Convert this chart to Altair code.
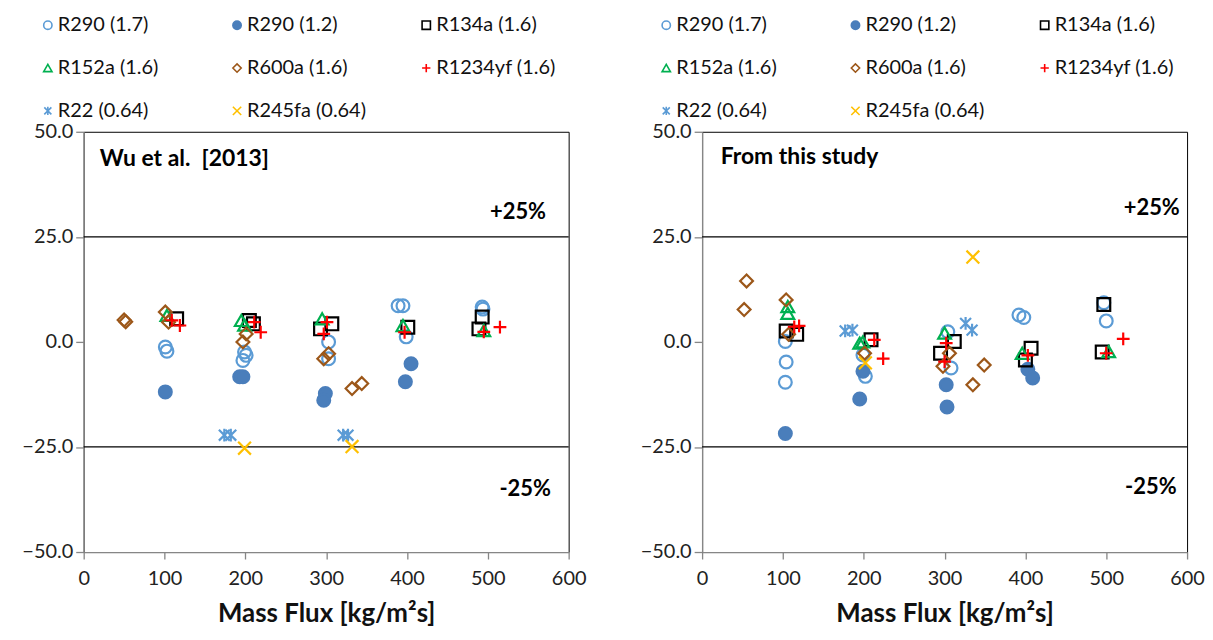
import altair as alt
import pandas as pd

# ---------------- data ----------------
SERIES = ["R290 (1.7)", "R290 (1.2)", "R134a (1.6)", "R152a (1.6)",
          "R600a (1.6)", "R1234yf (1.6)", "R22 (0.64)", "R245fa (0.64)"]
STROKES = ["#5B9BD5", "#4A7EBB", "#000000", "#00B050",
           "#9C5719", "#FF0000", "#5B9BD5", "#FFC000"]
FILLS = ["transparent", "#4A7EBB", "transparent", "transparent",
         "transparent", "transparent", "transparent", "transparent"]
PLUS = "M-1,0L1,0M0,-1L0,1"
ASTER = "M0,-1L0,1M-0.85,-0.85L0.85,0.85M-0.85,0.85L0.85,-0.85"
XMARK = "M-1,-1L1,1M-1,1L1,-1"
SHAPES = ["circle", "circle", "square", "triangle-up", "diamond", PLUS, ASTER, XMARK]

X_TICKS = [0, 100, 200, 300, 400, 500, 600]
Y_TICKS = [-50, -25, 0, 25, 50]
LIMITS = [25, -25]

# Wu et al. [2013] panel
wu_r290_17 = [(101, -1.2), (103, -2.2), (197, -4.4), (199, -2.4), (201, -3.2), (303, 0.0),
              (303, -4.0), (389, 8.6), (395, 8.6), (399, 1.2), (493, 8.3), (494, 7.8)]
wu_r290_12 = [(101, -11.9), (193, -8.3), (197, -8.3), (299, -12.3), (297, -13.9), (405, -5.2), (398, -9.5)]
wu_r134a = [(115, 5.5), (205, 5.1), (210, 4.3), (293, 3.1), (307, 4.3), (401, 3.5), (493, 5.9), (489, 3.1)]
wu_r152a = [(103, 6.3), (195, 5.1), (199, 4.0), (295, 5.5), (395, 3.9), (495, 2.7)]
wu_r600a = [(50, 5.2), (52, 4.8), (101, 7.1), (105, 4.7), (197, 0.0), (201, 1.9),
            (297, -4.0), (303, -2.8), (332, -11.1), (344, -9.9)]
wu_r1234yf = [(109, 5.1), (119, 3.9), (211, 4.7), (219, 2.3), (301, 4.7), (297, 1.9),
              (397, 2.3), (495, 2.4), (515, 3.5)]
wu_r22 = [(174, -22.2), (182, -22.2), (321, -22.2), (327, -22.2)]
wu_r245fa = [(199, -25.3), (332, -24.9)]

# From this study panel
st_r290_17 = [(103, 0.1), (104, -4.8), (103, -9.6), (199, -3.1), (202, -8.2), (304, 2.4),
              (308, -6.2), (392, 6.4), (398, 5.8), (497, 9.3), (500, 5.0)]
st_r290_12 = [(103, -21.8), (199, -7.0), (195, -13.6), (302, -10.2), (303, -15.5), (403, -6.5), (409, -8.6)]
st_r134a = [(104, 2.6), (117, 1.8), (209, 0.5), (312, 0.1), (295, -2.7), (407, -1.5),
            (400, -4.3), (497, 8.9), (495, -2.4)]
st_r152a = [(106, 8.4), (106, 6.8), (195, -0.3), (199, 0.0), (300, 2.1), (396, -2.7), (503, -2.3)]
st_r600a = [(55, 14.5), (52, 7.7), (104, 10.0), (107, 1.8), (201, -2.7), (306, -2.7),
            (298, -5.8), (349, -5.5), (335, -10.2)]
st_r1234yf = [(114, 3.6), (120, 3.8), (213, 0.5), (224, -4.0), (302, -0.3), (300, -4.7),
              (403, -3.2), (500, -2.7), (521, 0.7)]
st_r22 = [(177, 2.6), (186, 2.8), (326, 4.4), (334, 2.8)]
st_r245fa = [(202, -5.0), (335, 20.2)]

WU = [wu_r290_17, wu_r290_12, wu_r134a, wu_r152a, wu_r600a, wu_r1234yf, wu_r22, wu_r245fa]
ST = [st_r290_17, st_r290_12, st_r134a, st_r152a, st_r600a, st_r1234yf, st_r22, st_r245fa]

# annotations (label, x, y)
WU_TITLE = [("Wu et al.\u00a0 [2013]", 20, 43.5)]
WU_BANDS = [("+25%", 572, 31.0), ("-25%", 578, -35.0)]
ST_TITLE = [("From this study", 23, 44.0)]
ST_BANDS = [("+25%", 591, 31.8), ("-25%", 587, -34.5)]

FONT = "Lato"


def to_df(groups):
    rows = []
    for name, pts in zip(SERIES, groups):
        for x, y in pts:
            rows.append({"s": name, "x": x, "y": y})
    return pd.DataFrame(rows)


def ann_df(items):
    return pd.DataFrame([{"t": t, "x": x, "y": y} for t, x, y in items])


def panel(groups, title_items, band_items):
    xs = alt.Scale(domain=[0, 600], nice=False, zero=False)
    ys = alt.Scale(domain=[-50, 50], nice=False, zero=False)
    xenc = alt.X("x:Q", scale=xs, axis=alt.Axis(
        values=X_TICKS, title="Mass Flux [kg/m²s]", format="d",
        labelFontSize=20, titleFontSize=26, titleFontWeight="bold",
        labelPadding=10, titlePadding=12, tickSize=7, labelFlush=False))
    yenc = alt.Y("y:Q", scale=ys, axis=alt.Axis(
        values=Y_TICKS, format=".1f", title=None, labelFlush=False,
        labelFontSize=20, labelPadding=3, tickSize=8))

    leg = alt.Legend(orient="none", legendX=-46, legendY=-117, columns=3,
                     direction="horizontal",
                     gridAlign="all", columnPadding=50, rowPadding=23,
                     title=None, labelFont=FONT, labelFontSize=20,
                     labelColor="#111", symbolSize=70, symbolStrokeWidth=1.6,
                     labelOffset=0)

    pts = alt.Chart(to_df(groups)).mark_point(
        size=165, strokeWidth=2.2, opacity=1, filled=False
    ).encode(
        x=xenc, y=yenc,
        stroke=alt.Stroke("s:N", scale=alt.Scale(domain=SERIES, range=STROKES), legend=leg),
        fill=alt.Fill("s:N", scale=alt.Scale(domain=SERIES, range=FILLS), legend=leg),
        shape=alt.Shape("s:N", scale=alt.Scale(domain=SERIES, range=SHAPES), legend=leg),
    )

    rules = alt.Chart(pd.DataFrame({"y": LIMITS})).mark_rule(
        color="black", strokeWidth=1.3).encode(y=alt.Y("y:Q", scale=ys))

    ttl = alt.Chart(ann_df(title_items)).mark_text(
        align="left", baseline="middle", font=FONT, fontSize=23,
        fontWeight="bold", color="black"
    ).encode(x=alt.X("x:Q", scale=xs), y=alt.Y("y:Q", scale=ys), text="t:N")

    bands = alt.Chart(ann_df(band_items)).mark_text(
        align="right", baseline="middle", font=FONT, fontSize=22,
        fontWeight="bold", color="black"
    ).encode(x=alt.X("x:Q", scale=xs), y=alt.Y("y:Q", scale=ys), text="t:N")

    return alt.layer(rules, pts, ttl, bands).properties(width=487, height=422)


left = panel(WU, WU_TITLE, WU_BANDS)
right = panel(ST, ST_TITLE, ST_BANDS)

chart = alt.hconcat(left, right, spacing=53).resolve_scale(
    stroke="independent", fill="independent", shape="independent"
).resolve_legend(
    stroke="independent", fill="independent", shape="independent"
).properties(
    padding={"left": 13, "top": 5, "right": 0, "bottom": 0}
).configure_view(
    stroke="black", strokeWidth=1
).configure_axis(
    grid=False, domainColor="#868686", tickColor="#868686",
    domainWidth=1.3, tickWidth=1.3, labelFont=FONT, titleFont=FONT,
    labelColor="#222", titleColor="#111"
)

chart.save("out.html", embed_options={"renderer": "svg", "actions": False})
